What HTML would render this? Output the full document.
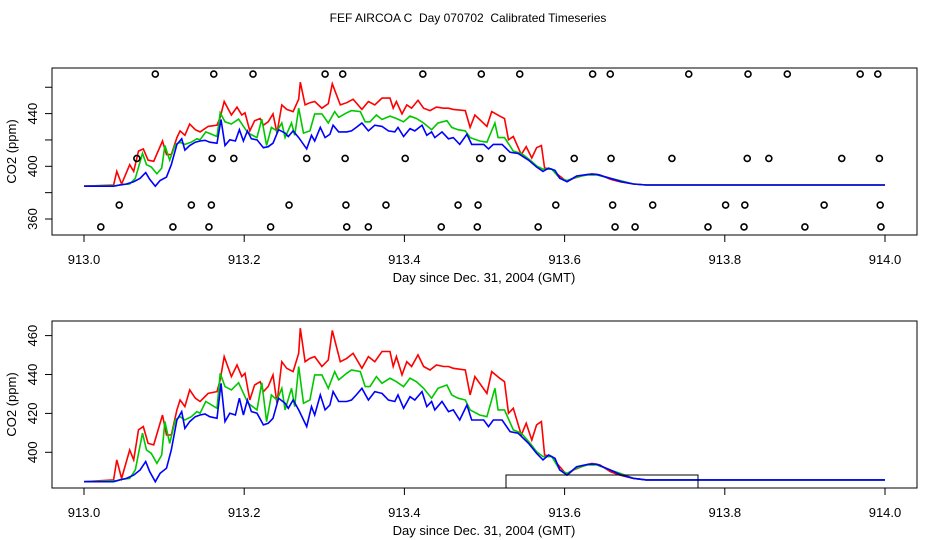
<!DOCTYPE html>
<html><head><meta charset="utf-8"><style>
body{margin:0;background:#fff}
svg{display:block;font-family:"Liberation Sans",sans-serif}
text{white-space:pre}
</style></head><body>
<svg id="chart" width="936" height="540" xmlns="http://www.w3.org/2000/svg">
<text x="468" y="22" text-anchor="middle" font-size="12" xml:space="preserve">FEF AIRCOA C  Day 070702  Calibrated Timeseries</text>
<g id="p1"></g>
<g id="p2"></g>
</svg>
<script>
const redT=[913.000,913.037,913.041,913.047,913.057,913.062,913.068,913.074,913.080,913.087,913.098,913.103,913.109,913.116,913.120,913.126,913.132,913.139,913.145,913.155,913.166,913.170,913.175,913.184,913.191,913.197,913.201,913.207,913.213,913.220,913.224,913.230,913.236,913.241,913.247,913.253,913.261,913.268,913.270,913.276,913.282,913.288,913.297,913.305,913.310,913.320,913.328,913.336,913.347,913.355,913.363,913.372,913.382,913.386,913.390,913.397,913.403,913.409,913.417,913.424,913.432,913.440,913.449,913.455,913.461,913.476,913.482,913.488,913.503,913.509,913.519,913.525,913.530,913.536,913.546,913.552,913.559,913.565,913.571,913.575,913.584,913.592,913.603,913.611,913.621,913.634,913.644,913.657,913.669,913.686,913.702,914.0];
const redV=[384.9,385.8,396.1,386.6,401.2,396.1,411.5,413.2,404.6,403.8,419.2,408.9,408.9,421.8,426.9,423.5,432.1,427.8,426.1,430.3,431.2,437.2,449.2,438.9,444.9,438.9,440.6,426.9,434.6,436.3,431.2,433.8,439.8,425.2,446.6,443.2,441.5,450.9,463.8,446.6,448.3,449.2,444.1,447.5,462.6,446.6,448.3,450.9,443.2,449.2,446.6,451.8,451.8,444.1,449.2,439.8,446.6,444.1,450.1,444.1,442.3,444.9,444.1,444.1,443.2,442.3,429.5,438.9,430.3,441.5,438.1,436.3,420.1,422.6,408.9,414.9,406.3,414.1,415.8,398.6,397.8,393.5,388.3,390.9,392.6,394.3,393.5,390.1,388.3,386.6,385.8,385.8];
const greenT=[913.000,913.041,913.047,913.057,913.064,913.073,913.078,913.084,913.091,913.097,913.101,913.107,913.114,913.120,913.126,913.134,913.141,913.145,913.152,913.166,913.170,913.176,913.184,913.193,913.201,913.205,913.216,913.222,913.228,913.234,913.241,913.247,913.251,913.259,913.263,913.268,913.274,913.282,913.288,913.297,913.305,913.313,913.318,913.328,913.334,913.345,913.351,913.357,913.365,913.372,913.382,913.390,913.399,913.407,913.415,913.424,913.434,913.442,913.453,913.459,913.467,913.476,913.482,913.494,913.503,913.513,913.517,913.525,913.536,913.546,913.557,913.565,913.573,913.584,913.594,913.603,913.615,913.628,913.640,913.657,913.669,913.686,913.702,914.0];
const greenV=[384.9,385.4,386.1,386.6,390.9,409.8,401.2,399.5,394.3,398.6,415.8,404.6,416.6,418.3,416.6,418.3,420.9,420.1,426.1,422.6,440.6,433.8,432.1,435.8,428.6,425.2,421.8,435.8,415.8,429.5,426.9,432.9,421.8,432.9,423.5,444.1,425.2,426.9,439.8,439.8,432.9,441.5,437.2,440.6,442.3,441.5,433.8,433.8,438.9,435.5,438.1,436.3,433.8,438.1,436.3,432.9,427.8,432.9,434.6,429.5,427.8,426.9,421.8,419.2,418.3,432.9,421.8,421.8,411.5,409.8,404.6,400.3,397.8,397.8,390.9,389.2,391.8,393.5,393.5,390.9,389.2,386.6,385.8,385.8];
const blueT=[913.000,913.037,913.045,913.053,913.062,913.070,913.077,913.082,913.089,913.095,913.103,913.109,913.116,913.122,913.126,913.132,913.139,913.145,913.151,913.157,913.166,913.171,913.176,913.182,913.189,913.194,913.199,913.204,913.209,913.216,913.224,913.230,913.236,913.243,913.251,913.255,913.261,913.268,913.278,913.284,913.288,913.295,913.301,913.307,913.311,913.318,913.328,913.334,913.340,913.347,913.355,913.363,913.372,913.380,913.388,913.392,913.399,913.407,913.413,913.422,913.428,913.434,913.438,913.447,913.455,913.461,913.469,913.478,913.484,913.499,913.505,913.511,913.522,913.532,913.542,913.555,913.565,913.573,913.580,913.588,913.594,913.603,913.615,913.630,913.640,913.657,913.671,913.686,913.702,914.0];
const blueV=[384.9,384.9,385.8,386.6,388.3,390.9,395.2,390.1,384.9,389.2,391.8,401.2,416.6,420.9,412.3,415.8,418.3,419.2,419.7,418.3,417.5,435.5,415.8,420.1,419.2,427.8,419.2,426.9,420.9,420.1,414.1,414.9,417.5,427.8,425.2,422.6,426.9,421.8,413.2,423.5,419.2,429.5,421.8,424.3,431.2,426.1,426.1,426.9,429.5,432.9,426.9,431.2,430.3,426.9,426.1,429.5,422.6,428.6,426.9,431.2,423.5,426.1,421.8,426.1,420.9,421.8,416.6,424.3,416.6,416.6,413.2,416.6,416.6,410.6,409.8,404.6,399.5,396.1,398.6,396.9,390.9,388.3,392.6,393.9,393.9,390.9,388.3,386.6,385.8,385.8];
const flagRowV=[470,406,370.6,354];
const flagT=[
[913.089,913.162,913.211,913.301,913.323,913.423,913.496,913.544,913.635,913.657,913.755,913.829,913.878,913.969,913.991],
[913.066,913.160,913.187,913.278,913.326,913.401,913.494,913.522,913.612,913.658,913.734,913.828,913.855,913.946,913.993],
[913.044,913.134,913.159,913.256,913.327,913.377,913.467,913.492,913.589,913.660,913.710,913.801,913.825,913.924,913.994],
[913.021,913.111,913.156,913.233,913.328,913.355,913.446,913.491,913.567,913.663,913.688,913.779,913.824,913.900,913.995]];
const xTicks=[913.0,913.2,913.4,913.6,913.8,914.0];
const xTickLabels=["913.0","913.2","913.4","913.6","913.8","914.0"];
const yTicks1=[360,380,400,420,440,460];
const yLabels1=["360","","400","","440",""];
const yTicks2=[400,420,440,460];
const yLabels2=["400","420","440","460"];

const NS="http://www.w3.org/2000/svg";
function mk(parent,tag,attrs){const e=document.createElementNS(NS,tag);for(const k in attrs)e.setAttribute(k,attrs[k]);parent.appendChild(e);return e;}
const X=t=>84+(t-913)*801;

function panel(g,top,bottom,Y,yT,yL,withFlags){
  const box=mk(g,'rect',{x:52,y:top,width:865,height:bottom-top,fill:'none',stroke:'#000','stroke-width':1});
  
  
  xTicks.forEach((t,i)=>{
    const l=mk(g,'line',{x1:X(t),x2:X(t),y1:bottom,y2:bottom+7,stroke:'#000'});
    
    
    const tx=mk(g,'text',{x:X(t),y:bottom+29,'text-anchor':'middle','font-size':13});
    tx.textContent=xTickLabels[i];
    
    
  });
  const xl=mk(g,'text',{x:484,y:bottom+47,'text-anchor':'middle','font-size':13});
  xl.textContent='Day since Dec. 31, 2004 (GMT)';
  
  
  yT.forEach((v,i)=>{
    const y=Y(v);
    const l=mk(g,'line',{x1:45,x2:52,y1:y,y2:y,stroke:'#000'});
    
    
    if(yL[i]){
      const tx=mk(g,'text',{x:0,y:0,'text-anchor':'middle','font-size':13,transform:`translate(37,${y}) rotate(-90)`});
      tx.textContent=yL[i];
      
      
    }
  });
  const yl=mk(g,'text',{x:0,y:0,'text-anchor':'middle','font-size':13,transform:`translate(16,${(top+bottom)/2}) rotate(-90)`});
  yl.textContent='CO2 (ppm)';
  
  
  [[redT,redV,'#ff0000','red'],[greenT,greenV,'#00c800','green'],[blueT,blueV,'#0000ff','blue']].forEach(s=>{
    const d=s[0].map((t,i)=>(i?'L':'M')+X(t).toFixed(1)+','+Y(s[1][i]).toFixed(1)).join('');
    const p=mk(g,'path',{d:d,fill:'none',stroke:s[2],'stroke-width':1.6});
    
    
  });
  if(withFlags){
    flagT.forEach((row,r)=>row.forEach(t=>{
      const c=mk(g,'circle',{cx:X(t),cy:Y(flagRowV[r]),r:3,fill:'none',stroke:'#000','stroke-width':1.6});
      
      
    }));
  }
}
panel(document.getElementById('p1'),68,235,v=>166.3-(v-400)*1.3175,yTicks1,yLabels1,true);
panel(document.getElementById('p2'),321,488,v=>452.3-(v-400)*1.945,yTicks2,yLabels2,false);
const r=mk(document.getElementById('p2'),'rect',{x:506,y:475,width:192,height:13,fill:'none',stroke:'#000','stroke-width':1});


</script>
</body></html>
